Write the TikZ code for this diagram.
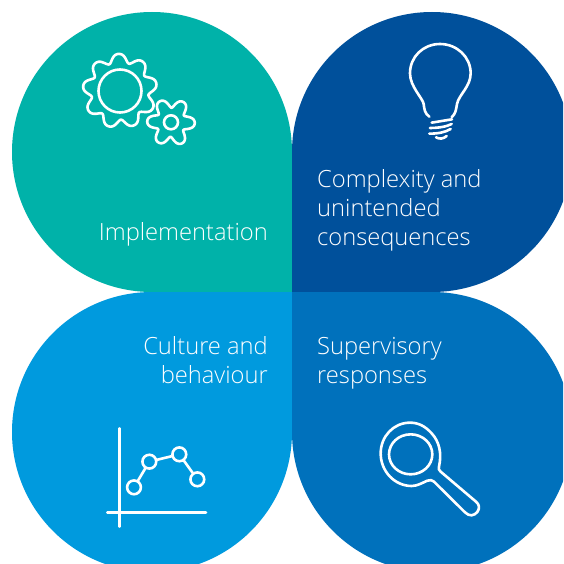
\documentclass[tikz,border=0pt]{standalone}
\usepackage{fontspec}
\setmainfont{Open Sans Light}
\definecolor{cteal}{HTML}{00B2A9}
\definecolor{cdark}{HTML}{00509B}
\definecolor{clight}{HTML}{009ADE}
\definecolor{cmid}{HTML}{0071BC}
\tikzset{
  icon/.style={draw=white,line width=2.6pt,line cap=round,line join=round},
  lab/.style={text=white,inner sep=0pt,font=\fontsize{23.7}{29}\selectfont},
  dot/.style={circle,draw=white,line width=2.6pt,minimum size=13.8pt,inner sep=0pt},
  zoomA/.style={x=0.3333pt,y=-0.3333pt}
}
\begin{document}
\begin{tikzpicture}[x=1pt,y=-1pt]
\useasboundingbox (0,0) rectangle (563,564);
\clip (0,0) rectangle (563,564);
\fill[white] (0,0) rectangle (563,564);
% petals
\fill[cteal] (292,292) -- (152,292) .. controls (74.68,292) and (12,229.32) .. (12,152) .. controls (12,74.68) and (74.68,12) .. (152,12) .. controls (229.32,12) and (292,74.68) .. (292,152) -- cycle;
\fill[cdark] (292,292) -- (292,152) .. controls (292,74.68) and (354.68,12) .. (432,12) .. controls (509.32,12) and (572,74.68) .. (572,152) .. controls (572,229.32) and (509.32,292) .. (432,292) -- cycle;
\fill[clight] (292,292) -- (292,432) .. controls (292,509.32) and (229.32,572) .. (152,572) .. controls (74.68,572) and (12,509.32) .. (12,432) .. controls (12,354.68) and (74.68,292) .. (152,292) -- cycle;
\fill[cmid] (292,292) -- (432,292) .. controls (509.32,292) and (572,354.68) .. (572,432) .. controls (572,509.32) and (509.32,572) .. (432,572) .. controls (354.68,572) and (292,509.32) .. (292,432) -- cycle;
% gears
\draw[icon,smooth,samples=181,domain=0:360] plot ({120+(33.5+4.2*(cos(9*(\x-92))-0.14*cos(18*(\x-92))))*cos(\x)},{91-(33.5+4.2*(cos(9*(\x-92))-0.14*cos(18*(\x-92))))*sin(\x)}) -- cycle;
\draw[icon] (120,91) circle[radius=21.5pt];
\draw[icon,smooth,samples=181,domain=0:360] plot ({171+(19.8+4.6*(cos(6*(\x+2))-0.14*cos(12*(\x+2))))*cos(\x)},{122.3-(19.8+4.6*(cos(6*(\x+2))-0.14*cos(12*(\x+2))))*sin(\x)}) -- cycle;
\draw[icon] (171,122.3) circle[radius=7pt];
% bulb
\begin{scope}[shift={(390pt,-30pt)},zoomA]
\draw[icon] (118,260) .. controls (104,250) and (103,238) .. (101,222) .. controls (98,204) and (60,170) .. (60,130) .. controls (60,80) and (100,42) .. (150,42) .. controls (200,42) and (242,80) .. (242,130) .. controls (242,170) and (206,195) .. (201,222) .. controls (198,238) and (198,250) .. (185,262);
\draw[icon] (125,278) -- (186,268);
\draw[icon] (120,294) .. controls (145,294) and (170,290) .. (185,282);
\draw[icon] (118,311) .. controls (145,311) and (165,307) .. (182,297);
\draw[icon] (138,322) .. controls (148,328) and (160,327) .. (170,318);
\end{scope}
% chart
\begin{scope}[shift={(90pt,-420pt)},zoomA]
\draw[icon] (89,25) -- (89,320);
\draw[icon] (52,278) -- (348,278);
\node[dot] (p1) at (132,202) {};
\node[dot] (p2) at (178,125) {};
\node[dot] (p3) at (268,103) {};
\node[dot] (p4) at (322,178) {};
\draw[icon] (p1) -- (p2);
\draw[icon] (p2) -- (p3);
\draw[icon] (p3) -- (p4);
\end{scope}
% magnifier
\begin{scope}[shift={(370pt,-410pt)},zoomA]
\draw[icon] (122,133) ellipse[x radius=65,y radius=60];
\draw[icon] (207,170) .. controls (216,130) and (208,95) .. (185,70) .. controls (165,48) and (145,38) .. (120,38) .. controls (70,38) and (32,80) .. (32,130) .. controls (32,185) and (75,228) .. (125,228) .. controls (142,228) and (158,218) .. (172,212) .. controls (180,209) and (187,210) .. (192,215) -- (285,307) .. controls (298,320) and (312,318) .. (322,306) .. controls (330,295) and (328,283) .. (318,275) -- (212,185) .. controls (206,180) and (205,176) .. (207,170) -- cycle;
\end{scope}
% labels
\node[lab,anchor=base east] (impl) at (268,240) {Implementation};
\node[lab,anchor=base west] (c1) at (317,187) {Complexity and};
\node[lab,anchor=base west] (c2) at (317,216) {unintended};
\node[lab,anchor=base west] (c3) at (317,245) {consequences};
\node[lab,anchor=base east] (b1) at (268,354) {Culture and};
\node[lab,anchor=base east] (b2) at (268,383) {behaviour};
\node[lab,anchor=base west] (s1) at (317,354) {Supervisory};
\node[lab,anchor=base west] (s2) at (317,383) {responses};
\end{tikzpicture}
\end{document}
